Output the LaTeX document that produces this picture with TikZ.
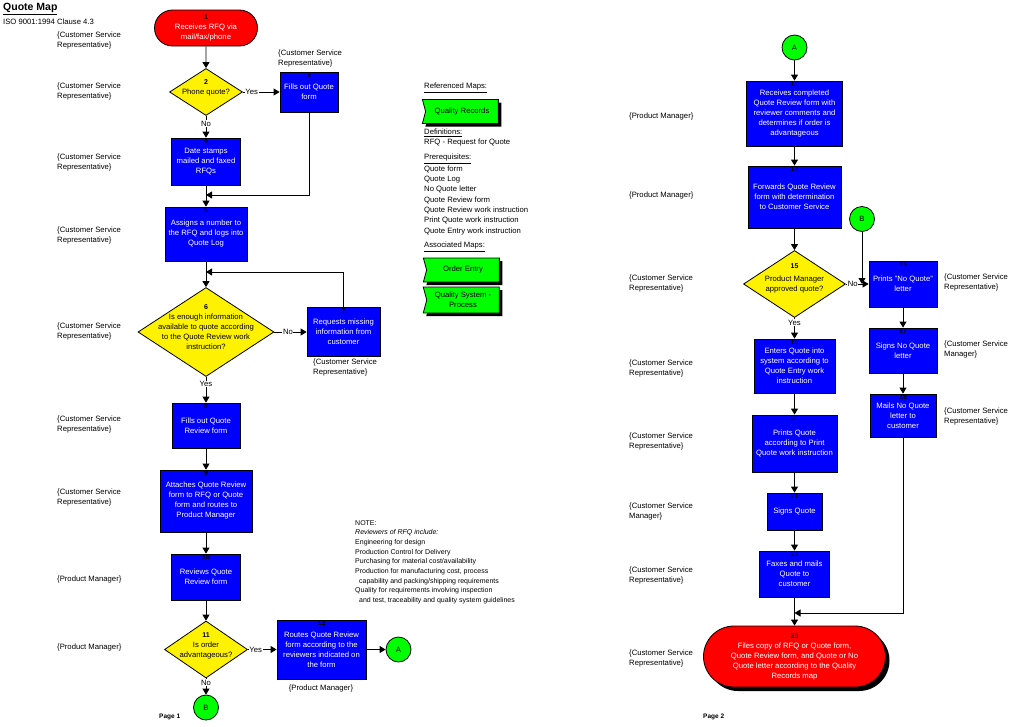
\documentclass[tikz,border=0pt]{standalone}
\usepackage{fontspec}
\setmainfont{Liberation Sans}
\usetikzlibrary{shapes.geometric, shapes.misc, shapes.symbols, shadows, arrows.meta}
\newcommand{\stepno}[1]{{\color{black}\bfseries\fontsize{7}{8}\selectfont #1}}
\newcommand{\mapfont}{\fontsize{7.7}{10}\selectfont}
\tikzset{task/.style={rectangle, draw=black, line width=0.8pt, fill=blue, text=white, align=center, inner sep=1pt, font=\mapfont}}
\tikzset{num/.style={anchor=north, inner sep=1.2pt, text=black, font=\bfseries\fontsize{7}{8}\selectfont}}
\tikzset{decision/.style={diamond, draw=black, line width=0.8pt, fill=yellow, inner sep=0pt}}
\tikzset{dtext/.style={align=center, inner sep=0pt, font=\mapfont}}
\tikzset{terminal/.style={rounded rectangle, draw=black, line width=0.8pt, fill=red, text=white, align=center, inner sep=1pt, font=\mapfont}}
\tikzset{link/.style={circle, draw=black, line width=0.8pt, fill=green, minimum size=25pt, inner sep=0pt, font=\mapfont}}
\tikzset{flow/.style={line width=0.8pt, -{Triangle[length=6pt, width=7pt]}}}
\tikzset{lbl/.style={fill=white, inner sep=0.6pt, font=\mapfont}}
\tikzset{role/.style={anchor=west, align=left, inner sep=0pt, font=\mapfont}}
\tikzset{blackshadow/.style={drop shadow={fill=black, opacity=1, shadow xshift=4pt, shadow yshift=-4pt}}}
\tikzset{mapref/.style={signal, signal from=west, signal to=nowhere, signal pointer angle=150, draw=black, line width=0.8pt, fill=green, align=center, inner sep=1pt, font=\mapfont, drop shadow={fill=black, opacity=1, shadow xshift=3pt, shadow yshift=-3pt}}}

\begin{document}
\begin{tikzpicture}[x=1pt, y=-1pt]
  \useasboundingbox (0,0) rectangle (1012,726);

  % Title
  \node[anchor=west, inner sep=0pt, font=\bfseries\fontsize{10.5}{12}\selectfont] (title) at (3,9) {\underline{Quote Map}};
  \node[role] (clause) at (3,22) {ISO 9001:1994 Clause 4.3};

  % Page 1
  \node[terminal, minimum width=105pt, minimum height=36pt] (n1) at (206,28) {\stepno{1}\\Receives RFQ via\\mail/fax/phone};
  \node[decision, minimum width=73pt, minimum height=47pt] (d2) at (206,92) {};
  \node[dtext] (d2t) at ([yshift=4pt]d2) {\stepno{2}\\Phone quote?};
  \node[task, minimum width=58pt, minimum height=40pt, label={[num]north:3}] (n3) at (309,92) {Fills out Quote\\form};
  \node[role] (n3role) at (278,59) {\{Customer Service\\Representative\}};
  \node[task, minimum width=69pt, minimum height=47pt, label={[num]north:4}] (n4) at (206,161.5) {Date stamps\\mailed and faxed\\RFQs};
  \node[task, minimum width=82pt, minimum height=54pt, label={[num]north:5}] (n5) at (206,234) {Assigns a number to\\the RFQ and logs into\\Quote Log};
  \node[decision, minimum width=136pt, minimum height=89pt] (d6) at (206,332) {};
  \node[dtext] (d6t) at ([yshift=5pt]d6) {\stepno{6}\\Is enough information\\available to quote according\\to the Quote Review work\\instruction?};
  \node[task, minimum width=73pt, minimum height=49pt, label={[num]north:7}] (n7) at (343.5,332) {Requests missing\\information from\\customer};
  \node[role] (n7role) at (313,368) {\{Customer Service\\Representative\}};
  \node[task, minimum width=68pt, minimum height=45pt, label={[num]north:8}] (n8) at (206,425.5) {Fills out Quote\\Review form};
  \node[task, minimum width=92pt, minimum height=62pt, label={[num]north:9}] (n9) at (206,501) {Attaches Quote Review\\form to RFQ or Quote\\form and routes to\\Product Manager};
  \node[task, minimum width=69pt, minimum height=46pt, label={[num]north:10}] (n10) at (206,577) {Reviews Quote\\Review form};
  \node[decision, minimum width=83pt, minimum height=57pt] (d11) at (206,649.5) {};
  \node[dtext] (d11t) at ([yshift=4pt]d11) {\stepno{11}\\Is order\\advantageous?};
  \node[task, minimum width=89pt, minimum height=59pt, label={[num]north:12}] (n12) at (321.5,649.5) {Routes Quote Review\\form according to the\\reviewers indicated on\\the form};
  \node[role, anchor=center] (n12role) at (321,688) {\{Product Manager\}};
  \node[link] (a1) at (398.5,649.5) {A};
  \node[link] (b1) at (206,707.5) {B};
  \node[anchor=west, inner sep=0pt, font=\bfseries\fontsize{6.5}{8}\selectfont] (page1) at (159,717) {Page 1};

  % Roles, page 1
  \foreach \y [count=\i] in {40.5,92,163,235.5,332,425,497.5}
    \node[role] (csrL\i) at (57,\y) {\{Customer Service\\Representative\}};
  \node[role] (pmL1) at (57,579) {\{Product Manager\}};
  \node[role] (pmL2) at (57,647) {\{Product Manager\}};

  % Maps and prerequisites
  \node[role] (refmaps) at (424,88) {\underline{Referenced Maps:}};
  \node[mapref, minimum width=76pt, minimum height=24pt] (qrec) at (462,111.5) {Quality Records};
  \node[role] (defs) at (424,133) {\underline{Definitions:}};
  \node[role] (rfq) at (424,143) {RFQ - Request for Quote};
  \node[role] (prereq) at (424,159) {\underline{Prerequisites:}};
  \foreach \docname [count=\i] in {Quote form, Quote Log, No Quote letter, Quote Review form, Quote Review work instruction, Print Quote work instruction, Quote Entry work instruction}
    \node[role] (doc\i) at (424,{159+10.3*\i}) {\docname};
  \node[role] (assocmaps) at (424,247) {\underline{Associated Maps:}};
  \node[mapref, minimum width=76pt, minimum height=24pt] (oentry) at (463,270) {Order Entry};
  \node[mapref, minimum width=76pt, minimum height=26pt] (qsys) at (463,300) {Quality System -\\Process};

  % Note
  \node[role, anchor=north west, font=\fontsize{7}{9.7}\selectfont] (note) at (355,520) {NOTE:\\\textit{Reviewers of RFQ include:}\\Engineering for design\\Production Control for Delivery\\Purchasing for material cost/availability\\Production for manufacturing cost, process\\\hspace*{4pt}capability and packing/shipping requirements\\Quality for requirements involving inspection\\\hspace*{4pt}and test, traceability and quality system guidelines};

  % Page 2
  \node[link] (a2) at (794.5,47.5) {A};
  \node[task, minimum width=96pt, minimum height=65pt, label={[num]north:13}] (n13) at (794.5,113.5) {Receives completed\\Quote Review form with\\reviewer comments and\\determines if order is\\advantageous};
  \node[task, minimum width=93pt, minimum height=62pt, label={[num]north:14}] (n14) at (794.5,197) {Forwards Quote Review\\form with determination\\to Customer Service};
  \node[decision, minimum width=102pt, minimum height=67pt] (d15) at (794.5,284) {};
  \node[dtext] (d15t) at ([yshift=6pt]d15) {\stepno{15}\\[3pt]Product Manager\\approved quote?};
  \node[link] (b2) at (862,219) {B};
  \node[task, minimum width=68pt, minimum height=46pt, label={[num]north:16}] (n16) at (903,284) {Prints "No Quote"\\letter};
  \node[task, minimum width=68pt, minimum height=45pt, label={[num]north:17}] (n17) at (903,350.5) {Signs No Quote\\letter};
  \node[task, minimum width=66pt, minimum height=43pt, label={[num]north:18}] (n18) at (903,415.5) {Mails No Quote\\letter to\\customer};
  \node[task, minimum width=81pt, minimum height=54pt, label={[num]north:19}] (n19) at (794.5,366) {Enters Quote into\\system according to\\Quote Entry work\\instruction};
  \node[task, minimum width=85pt, minimum height=57pt, label={[num]north:20}] (n20) at (794.5,443.5) {Prints Quote\\according to Print\\Quote work instruction};
  \node[task, minimum width=55pt, minimum height=37pt, label={[num]north:21}] (n21) at (794.5,511.5) {Signs Quote};
  \node[task, minimum width=70pt, minimum height=46pt, label={[num]north:22}] (n22) at (794.5,574) {Faxes and mails\\Quote to\\customer};
  \node[terminal, blackshadow, minimum width=184pt, minimum height=61pt] (n23) at (794.5,656.5) {\stepno{23}\\Files copy of RFQ or Quote form,\\Quote Review form, and Quote or No\\Quote letter according to the Quality\\Records map};
  \node[anchor=west, inner sep=0pt, font=\bfseries\fontsize{6.5}{8}\selectfont] (page2) at (703,717) {Page 2};

  % Roles, page 2
  \node[role] (pmR1) at (629,117) {\{Product Manager\}};
  \node[role] (pmR2) at (629,196) {\{Product Manager\}};
  \foreach \y [count=\i] in {284,369,442,576,658}
    \node[role] (csrR\i) at (629,\y) {\{Customer Service\\Representative\}};
  \node[role] (csmR1) at (629,512) {\{Customer Service\\Manager\}};
  \node[role] (csrF1) at (944,283) {\{Customer Service\\Representative\}};
  \node[role] (csmF1) at (944,350) {\{Customer Service\\Manager\}};
  \node[role] (csrF2) at (944,417) {\{Customer Service\\Representative\}};

  % Joins
  \coordinate (j45) at (206,195);
  \coordinate (j56) at (206,272);
  \coordinate (j2223) at (794.5,613);

  % Flow, page 1
  \draw[flow] (n1) -- (d2);
  \draw[flow] (d2) -- node[lbl, pos=0.36] {No} (n4);
  \draw[flow] (d2) -- node[lbl, pos=0.24] {Yes} (n3);
  \draw[flow] (n3.south) |- (j45);
  \draw[flow] (n4) -- (n5);
  \draw[flow] (n5) -- (d6);
  \draw[flow] (d6) -- node[lbl, pos=0.42] {No} (n7);
  \draw[flow] (n7.north) |- (j56);
  \draw[flow] (d6) -- node[lbl, pos=0.27] {Yes} (n8);
  \draw[flow] (n8) -- (n9);
  \draw[flow] (n9) -- (n10);
  \draw[flow] (n10) -- (d11);
  \draw[flow] (d11) -- node[lbl, pos=0.27] {Yes} (n12);
  \draw[flow] (d11) -- node[lbl, pos=0.25] {No} (b1);
  \draw[flow] (n12) -- (a1);

  % Flow, page 2
  \draw[flow] (a2) -- (n13);
  \draw[flow] (n13) -- (n14);
  \draw[flow] (n14) -- (d15);
  \draw[flow] (d15) -- node[lbl, pos=0.3] {No} (n16);
  \draw[flow] (b2) -- (b2 |- d15);
  \draw[flow] (d15) -- node[lbl, pos=0.23] {Yes} (n19);
  \draw[flow] (n16) -- (n17);
  \draw[flow] (n17) -- (n18);
  \draw[flow] (n19) -- (n20);
  \draw[flow] (n20) -- (n21);
  \draw[flow] (n21) -- (n22);
  \draw[flow] (n22) -- (n23);
  \draw[flow] (n18.south) |- (j2223);
\end{tikzpicture}
\end{document}
